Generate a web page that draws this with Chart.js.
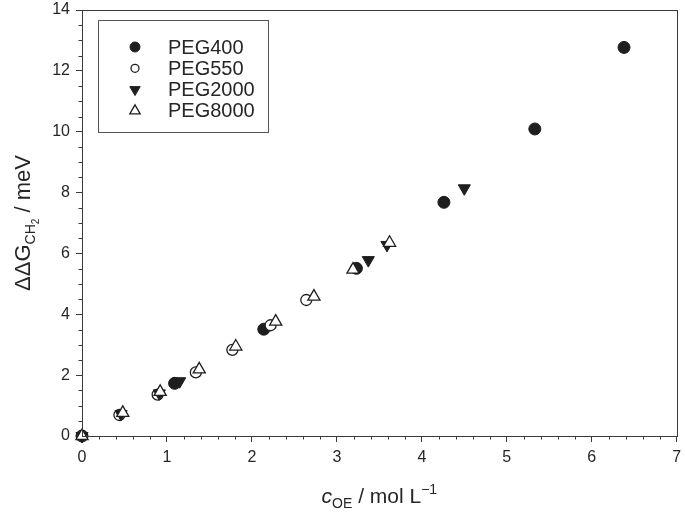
<!DOCTYPE html>
<html>
<head>
<meta charset="utf-8">
<script src="https://cdn.jsdelivr.net/npm/chart.js@4.4.1/dist/chart.umd.min.js"></script>
<style>
  html, body { margin: 0; padding: 0; background: #fff; }
  #wrap { width: 685px; height: 521px; }
</style>
</head>
<body>
<div id="wrap"><canvas id="chart" width="685" height="521"></canvas></div>
<script>
// values (c_OE in mol/L, ddG in meV)
const peg400x  = [0, 1.09, 2.14, 3.23, 4.26, 5.33, 6.38];
const peg400y  = [0, 1.73, 3.51, 5.51, 7.68, 10.09, 12.77];
const peg550x  = [0, 0.44, 0.89, 1.34, 1.77, 2.22, 2.64];
const peg550y  = [0, 0.69, 1.36, 2.09, 2.83, 3.64, 4.47];
const peg2000x = [0, 0.46, 0.91, 1.15, 3.37, 3.59, 4.50];
const peg2000y = [0, 0.72, 1.40, 1.80, 5.78, 6.28, 8.14];
const peg8000x = [0, 0.48, 0.92, 1.38, 1.81, 2.28, 2.73, 3.19, 3.62];
const peg8000y = [0, 0.76, 1.45, 2.19, 2.94, 3.76, 4.58, 5.47, 6.35];

const seriesNames = ['PEG400', 'PEG550', 'PEG2000', 'PEG8000'];
const xTicks = [0, 1, 2, 3, 4, 5, 6, 7];
const yTicks = [0, 2, 4, 6, 8, 10, 12, 14];

const FONT = '"Liberation Sans", Arial, sans-serif';
const INK = '#1e1e1e';
const AXIS = '#3a3a3a';
const TEXT = '#262626';

function pts(xs, ys) {
  return xs.map((x, i) => ({ x: x, y: ys[i] }));
}

const datasets = [
  { label: seriesNames[0], data: pts(peg400x, peg400y), pointStyle: 'circle',
    pointRadius: 6, backgroundColor: INK, borderColor: INK, borderWidth: 1, order: 4 },
  { label: seriesNames[1], data: pts(peg550x, peg550y), pointStyle: 'circle',
    pointRadius: 5.5, backgroundColor: '#fff', borderColor: INK, borderWidth: 1.3, order: 3 },
  { label: seriesNames[2], data: pts(peg2000x, peg2000y), pointStyle: 'triangle', rotation: 180,
    pointRadius: 7, backgroundColor: INK, borderColor: INK, borderWidth: 1, order: 2 },
  { label: seriesNames[3], data: pts(peg8000x, peg8000y), pointStyle: 'triangle',
    pointRadius: 7, backgroundColor: '#fff', borderColor: INK, borderWidth: 1.3, order: 1 }
];
datasets.forEach(d => { d.showLine = false; d.clip = false; d.pointHoverRadius = d.pointRadius; });

// write a run of text pieces (sub/superscripts) centred on cx, baseline cy
function runWidth(ctx, parts) {
  let w = 0;
  parts.forEach(p => {
    ctx.font = (p.italic ? 'italic ' : '') + p.size + 'px ' + FONT;
    w += ctx.measureText(p.t).width;
  });
  return w;
}
function drawRun(ctx, parts, cx, cy) {
  let x = cx - runWidth(ctx, parts) / 2;
  parts.forEach(p => {
    ctx.font = (p.italic ? 'italic ' : '') + p.size + 'px ' + FONT;
    ctx.fillText(p.t, x, cy + (p.dy || 0));
    x += ctx.measureText(p.t).width;
  });
}

const decorations = {
  id: 'decorations',
  afterDraw(chart) {
    const ctx = chart.ctx;
    const a = chart.chartArea;
    const xs = chart.scales.x, ys = chart.scales.y;
    ctx.save();

    // frame
    ctx.strokeStyle = AXIS;
    ctx.lineWidth = 1;
    ctx.strokeRect(Math.round(a.left) + 0.5, Math.round(a.top) + 0.5,
      Math.round(a.right - a.left), Math.round(a.bottom - a.top));

    // minor ticks
    ctx.beginPath();
    for (let v = 0.2; v < 7; v += 0.2) {
      if (Math.abs(v - Math.round(v)) < 1e-6) continue;
      const px = Math.round(xs.getPixelForValue(v)) + 0.5;
      ctx.moveTo(px, a.bottom);
      ctx.lineTo(px, a.bottom + 3.5);
    }
    for (let v = 0.5; v < 14; v += 0.5) {
      if (Math.abs(v / 2 - Math.round(v / 2)) < 1e-6) continue;
      const py = Math.round(ys.getPixelForValue(v)) + 0.5;
      ctx.moveTo(a.left, py);
      ctx.lineTo(a.left - 3.5, py);
    }
    ctx.stroke();

    // axis titles
    ctx.fillStyle = TEXT;
    ctx.textBaseline = 'alphabetic';
    drawRun(ctx, [
      { t: 'c', size: 21, italic: true },
      { t: 'OE', size: 14, dy: 5 },
      { t: ' / mol L', size: 21 },
      { t: '\u22121', size: 14, dy: -9 }
    ], (a.left + a.right) / 2, 503);

    ctx.save();
    ctx.translate(30, (a.top + a.bottom) / 2);
    ctx.rotate(-Math.PI / 2);
    drawRun(ctx, [
      { t: '\u0394\u0394G', size: 22 },
      { t: 'CH', size: 14, dy: 5 },
      { t: '2', size: 10, dy: 9 },
      { t: ' / meV', size: 22 }
    ], 0, 0);
    ctx.restore();

    // legend box
    const lx = 98, ly = 20, lw = 170, lh = 112;
    ctx.strokeStyle = '#555';
    ctx.strokeRect(lx + 0.5, ly + 0.5, lw, lh);
    chart.data.datasets.forEach((d, i) => {
      const yy = 47 + i * 21.3;
      const r = d.pointStyle === 'triangle' ? 6 : (i === 1 ? 4 : 5);
      ctx.fillStyle = d.backgroundColor;
      ctx.strokeStyle = d.borderColor;
      ctx.lineWidth = d.borderWidth;
      Chart.helpers.drawPoint(ctx, {
        pointStyle: d.pointStyle, rotation: d.rotation || 0, radius: r, borderWidth: d.borderWidth
      }, 135, yy);
      ctx.fillStyle = TEXT;
      ctx.font = '20px ' + FONT;
      ctx.textBaseline = 'middle';
      ctx.fillText(d.label, 168, yy + 1);
    });
    ctx.restore();
  }
};

new Chart(document.getElementById('chart'), {
  type: 'scatter',
  data: { datasets: datasets },
  options: {
    responsive: false,
    animation: false,
    events: [],
    layout: { padding: { top: 10, right: 2, bottom: 0, left: 0 } },
    plugins: { legend: { display: false }, tooltip: { enabled: false } },
    scales: {
      x: {
        type: 'linear', min: 0, max: 7,
        afterBuildTicks: s => { s.ticks = xTicks.map(v => ({ value: v })); },
        afterFit: s => { s.height = 85; s.paddingLeft = 0; s.paddingRight = 0; },
        ticks: { color: TEXT, font: { family: FONT, size: 16 }, padding: 6 },
        grid: { drawOnChartArea: false, tickLength: 6, color: AXIS },
        border: { color: AXIS }
      },
      y: {
        type: 'linear', min: 0, max: 14,
        afterBuildTicks: s => { s.ticks = yTicks.map(v => ({ value: v })); },
        afterFit: s => { s.width = 82; s.paddingTop = 0; s.paddingBottom = 0; },
        ticks: { color: TEXT, font: { family: FONT, size: 16 }, padding: 6 },
        grid: { drawOnChartArea: false, tickLength: 6, color: AXIS },
        border: { color: AXIS }
      }
    }
  },
  plugins: [decorations]
});
</script>
</body>
</html>
